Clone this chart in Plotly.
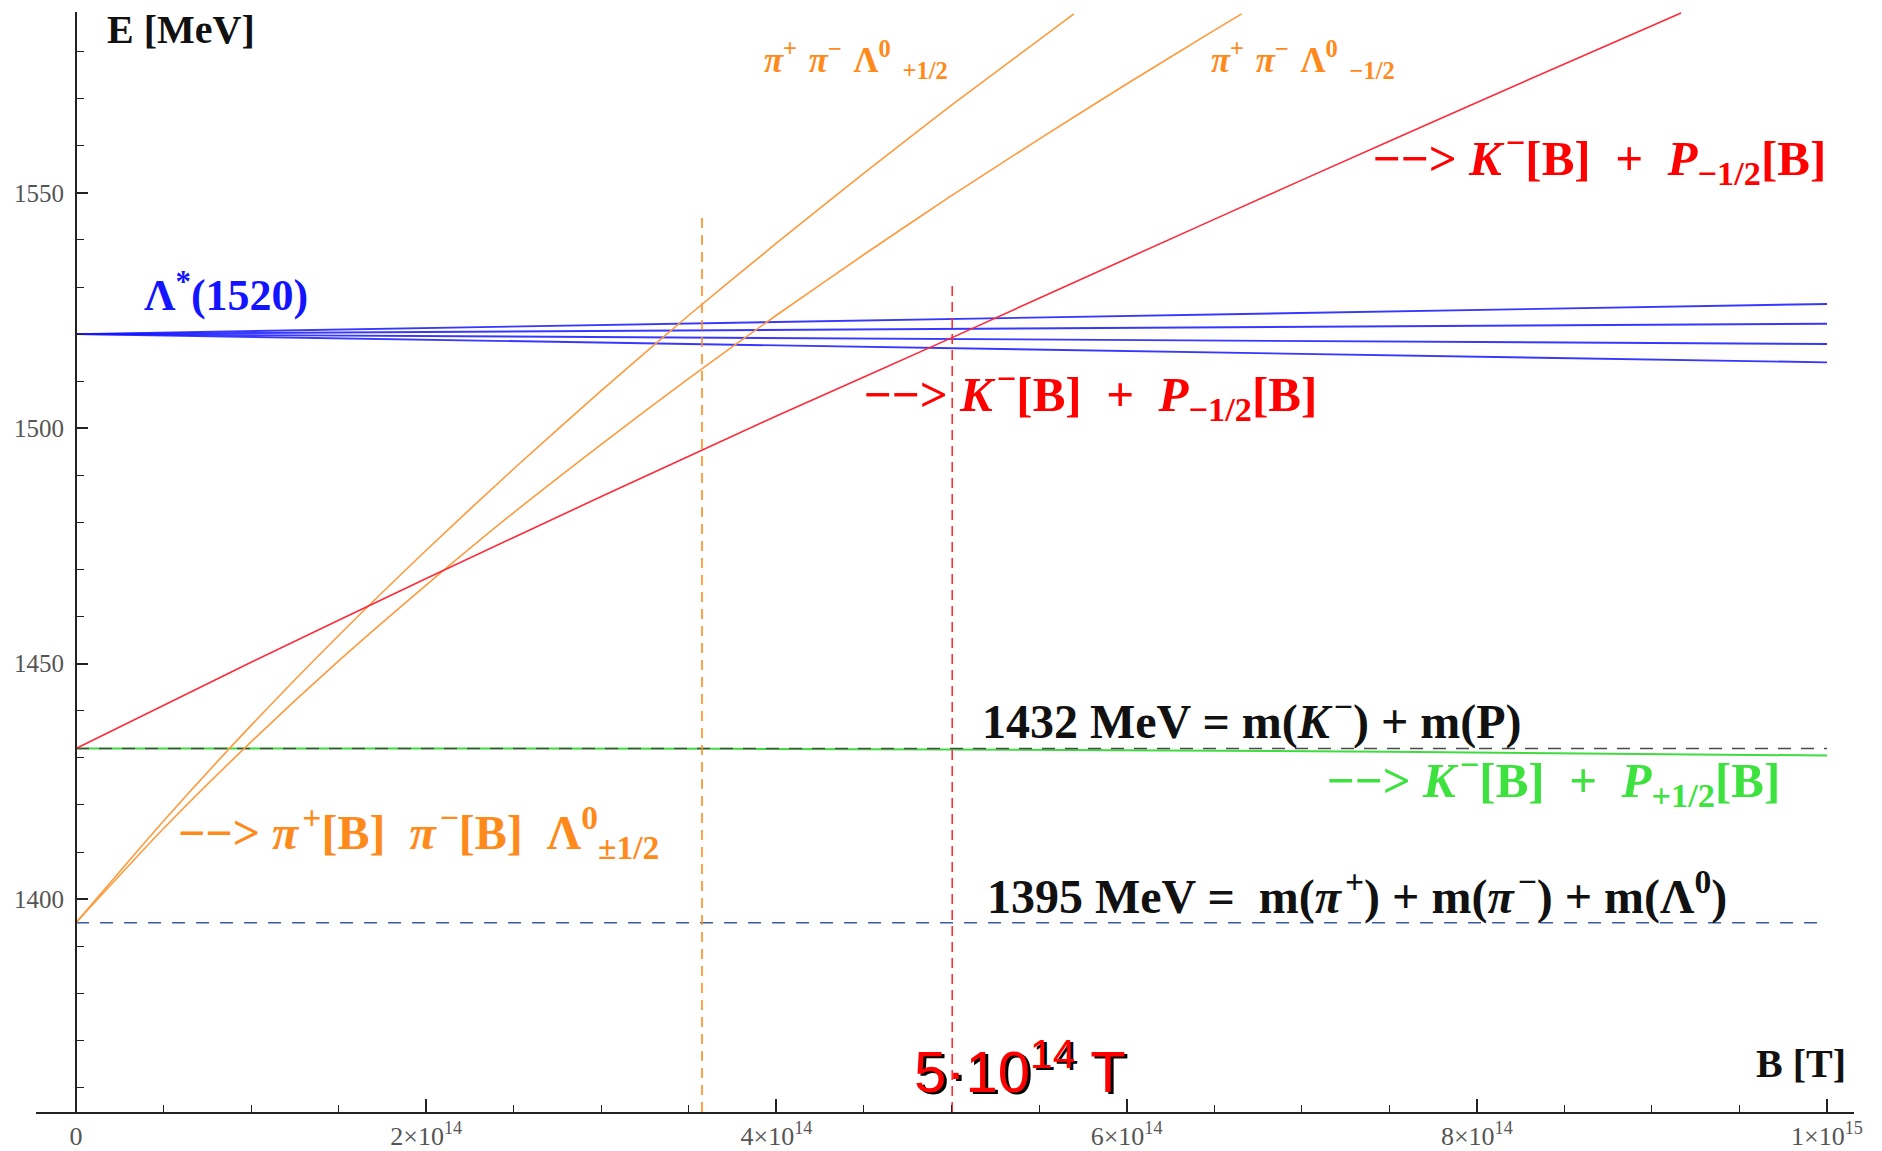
import plotly.graph_objects as go

# ---------------- data (B in tesla, E in MeV) ----------------
B_band = [0.0, 1.0e15]
E_band_1 = [1520.0, 1526.4]
E_band_2 = [1520.0, 1522.2]
E_band_3 = [1520.0, 1517.9]
E_band_4 = [1520.0, 1514.0]

B_red = [0.0, 1e14, 2e14, 3e14, 4e14, 5e14, 6e14, 7e14, 8e14, 9e14, 9.166e14]
E_red = [1432.0, 1450.3, 1468.1, 1485.5, 1502.6, 1519.2, 1536.0, 1552.7, 1569.2, 1585.5, 1588.2]

B_orange_p = [0.0, 0.5e14, 1e14, 1.5e14, 2e14, 2.5e14, 3e14, 3.5e14, 4e14,
              4.5e14, 5e14, 5.5e14, 5.699e14]
E_orange_p = [1395.0, 1416.6, 1436.9, 1456.0, 1474.1, 1491.4, 1508.0, 1524.0, 1539.3,
              1554.2, 1568.6, 1582.5, 1588.0]

B_orange_m = [0.0, 0.5e14, 1e14, 1.5e14, 2e14, 2.5e14, 3e14, 3.5e14, 4e14,
              4.5e14, 5e14, 5.5e14, 6e14, 6.5e14, 6.657e14]
E_orange_m = [1395.0, 1415.0, 1433.4, 1450.6, 1466.7, 1482.1, 1496.6, 1510.6, 1524.0,
              1536.9, 1549.4, 1561.4, 1573.1, 1584.5, 1588.0]

B_green = [0.0, 2.5e14, 5e14, 7.5e14, 10e14]
E_green = [1432.0, 1432.0, 1431.8, 1431.3, 1430.5]

B_thr = [0.0, 1.0e15]
E_thr_KP = [1432.0, 1432.0]
E_thr_pipiL = [1395.0, 1395.0]

B_vline_orange = [3.575e14, 3.575e14]
E_vline_orange = [1354.8, 1545.6]
B_vline_red = [5.004e14, 5.004e14]
E_vline_red = [1354.8, 1530.5]

x_tickvals = [0, 2e14, 4e14, 6e14, 8e14, 1e15]
x_ticktext = ["0", "2×10<sup>14</sup>", "4×10<sup>14</sup>", "6×10<sup>14</sup>",
              "8×10<sup>14</sup>", "1×10<sup>15</sup>"]
y_tickvals = [1400, 1450, 1500, 1550]
y_ticktext = ["1400", "1450", "1500", "1550"]

# ---------------- figure ----------------
fig = go.Figure()

def add_line(x, y, color, width=1.5, dash=None):
    fig.add_trace(go.Scatter(x=x, y=y, mode="lines",
                             line=dict(color=color, width=width, dash=dash, shape="spline",
                                       smoothing=0.6),
                             hoverinfo="skip", showlegend=False))

for e in (E_band_1, E_band_2, E_band_3, E_band_4):
    add_line(B_band, e, "rgba(20,20,255,0.85)", 1.9)

add_line(B_green, E_green, "#3fdc3f", 2.0)
add_line(B_thr, E_thr_KP, "#4a4a4a", 1.4, "13px,10px")
add_line(B_thr, E_thr_pipiL, "#3a5ba8", 1.6, "13px,11px")

add_line(B_vline_orange, E_vline_orange, "#ff8c1a", 1.6, "10px,7px")
add_line(B_vline_red, E_vline_red, "#ff3030", 1.6, "10px,6px")

add_line(B_orange_p, E_orange_p, "#ff9a3c", 1.6)
add_line(B_orange_m, E_orange_m, "#ff9a3c", 1.6)
add_line(B_red, E_red, "#ff2a3a", 1.6)

SERIF = "Liberation Serif"
ORANGE = "#ff8a1c"
RED = "#ff0000"
GREEN = "#3ee23e"
BLUE = "#1414ff"
BLACK = "#111111"
HS = "\u200a"   # hair space
EN = "\u2002"   # en space
TP = "\u2004"   # three-per-em space

def ann(x, y, text, size, color, xanchor="left", family=SERIF, shadow=None):
    font = dict(family=family, size=size, color=color)
    if shadow:
        font["shadow"] = shadow
    fig.add_annotation(x=x, y=y, xref="x", yref="y", text=text, showarrow=False,
                       xanchor=xanchor, yanchor="middle", font=font, borderpad=0)

ann(0.171e14, 1584.75, "<b>E [MeV]</b>", 40, BLACK)
ann(4.452e14, 1578.4,
    f"<b><i>π</i><sup>+</sup>{TP}<i>π</i><sup>−</sup>{TP}Λ<sup>0</sup>{TP}<sub>+1/2</sub></b>",
    35, ORANGE, "center")
ann(7.007e14, 1578.4,
    f"<b><i>π</i><sup>+</sup>{TP}<i>π</i><sup>−</sup>{TP}Λ<sup>0</sup>{TP}<sub>−1/2</sub></b>",
    35, ORANGE, "center")
ann(7.401e14, 1557.6,
    f"<b>−−> <i>K</i>{HS}<sup>−</sup>[B]{EN}+{EN}<i>P</i><sub>−1/2</sub>[B]</b>", 49, RED)
ann(0.383e14, 1528.9, "<b>Λ<sup>*</sup>(1520)</b>", 44, BLUE)
ann(4.496e14, 1507.3,
    f"<b>−−> <i>K</i>{HS}<sup>−</sup>[B]{EN}+{EN}<i>P</i><sub>−1/2</sub>[B]</b>", 49, RED)
ann(5.171e14, 1438.4, f"<b>1432 MeV = m(<i>K</i>{HS}<sup>−</sup>) + m(P)</b>", 48, BLACK)
ann(7.138e14, 1425.5,
    f"<b>−−> <i>K</i>{HS}<sup>−</sup>[B]{EN}+{EN}<i>P</i><sub>+1/2</sub>[B]</b>", 49, GREEN)
ann(0.574e14, 1414.2,
    f"<b>−−> <i>π</i>{HS}<sup>+</sup>[B]{EN}<i>π</i>{HS}<sup>−</sup>[B]{EN}Λ<sup>0</sup><sub>±1/2</sub></b>",
    48, ORANGE)
ann(5.197e14, 1401.3,
    f"<b>1395 MeV =  m(<i>π</i>{HS}<sup>+</sup>) + m(<i>π</i>{HS}<sup>−</sup>) + m(Λ<sup>0</sup>)</b>",
    48, BLACK)
ann(4.782e14, 1364.3, "5·10<sup>14</sup> T", 58, RED, family="Liberation Sans",
    shadow="3px 2px 0px #000000")
ann(9.589e14, 1365.0, "<b>B [T]</b>", 40, BLACK)

fig.update_xaxes(
    range=[-0.2284e14, 10.154e14],
    automargin=False,
    showline=True, linecolor="#222222", linewidth=2,
    showgrid=False, zeroline=False,
    tickmode="array", tickvals=x_tickvals, ticktext=x_ticktext,
    ticks="inside", ticklen=13, tickwidth=1.5, tickcolor="#222222",
    tickfont=dict(family=SERIF, size=26, color="#555555"),
    ticklabelstandoff=0,
    minor=dict(ticks="inside", ticklen=7, tickwidth=1.3, tickcolor="#222222",
               tick0=0, dtick=0.5e14, showgrid=False),
    fixedrange=True,
)
fig.update_yaxes(
    range=[1354.8, 1588.4],
    automargin=False,
    anchor="free", position=0.022,
    showline=True, linecolor="#222222", linewidth=2,
    showgrid=False, zeroline=False,
    tickmode="array", tickvals=y_tickvals, ticktext=y_ticktext,
    ticks="inside", ticklen=11, tickwidth=1.5, tickcolor="#222222",
    tickfont=dict(family=SERIF, size=25, color="#555555"),
    ticklabelstandoff=6,
    minor=dict(ticks="inside", ticklen=7, tickwidth=1.3, tickcolor="#222222",
               tick0=1350, dtick=10, showgrid=False),
    fixedrange=True,
)

fig.update_layout(
    width=1882, height=1151, autosize=False,
    margin=dict(l=36, r=28, t=12, b=39, pad=0, autoexpand=False),
    plot_bgcolor="white", paper_bgcolor="white",
    showlegend=False,
)

fig.write_html("out.html", config={"displayModeBar": False})
